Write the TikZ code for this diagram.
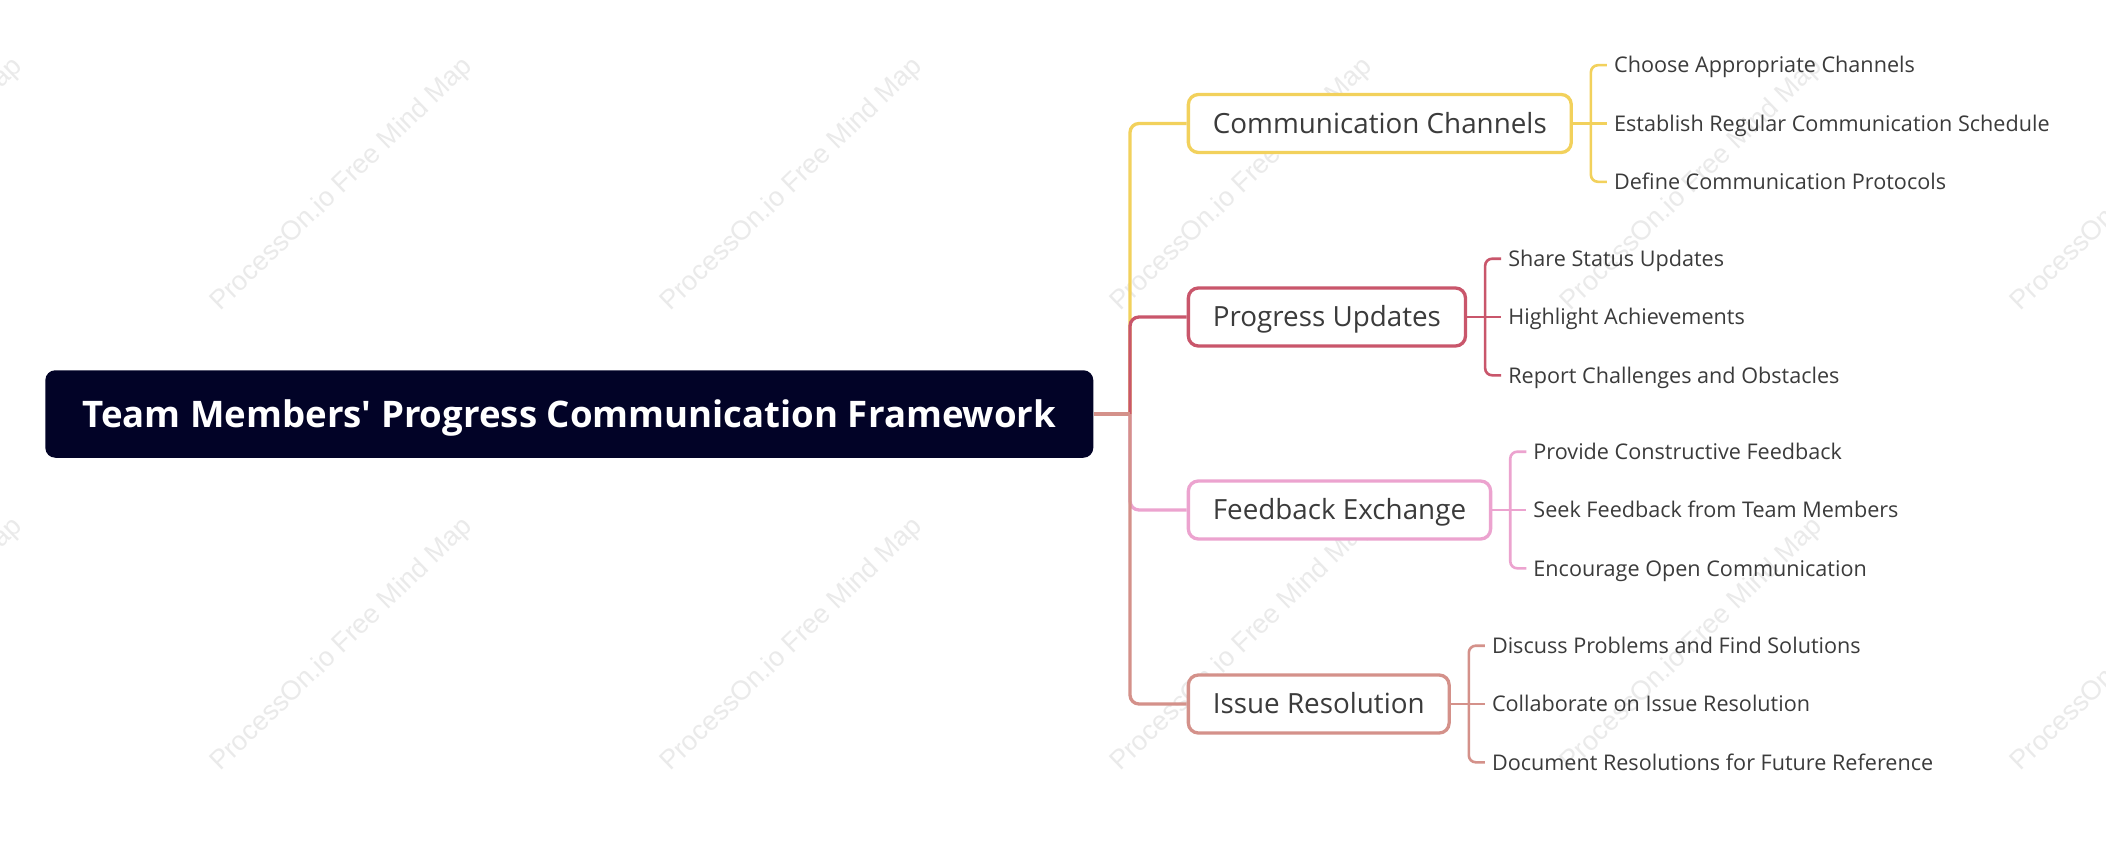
\documentclass[tikz,border=0pt]{standalone}
\usepackage{fontspec}
\setmainfont{Open Sans}[Ligatures=TeXOff]
\newfontfamily\wmfont{Liberation Sans}
\usetikzlibrary{calc}
\definecolor{ccol}{HTML}{F2D15C}
\definecolor{pucol}{HTML}{C9566B}
\definecolor{fecol}{HTML}{ECA3CF}
\definecolor{ircol}{HTML}{D4918A}
\definecolor{rootfill}{HTML}{020327}
\definecolor{txt}{HTML}{3B3B3B}
\definecolor{wmc}{HTML}{EAEAEA}
\tikzset{
  rootbox/.style={fill=rootfill, rounded corners=10pt, minimum width=1048pt, minimum height=87.5pt,
    text=white, font=\fontsize{36.6}{40}\selectfont\bfseries, inner sep=0pt,
    text height=26pt, text depth=-1pt},
  topic/.style={draw=#1, line width=3.3pt, rounded corners=10pt, fill=white, minimum height=58pt,
    inner xsep=24.5pt, inner ysep=0pt, anchor=west, text=txt, font=\fontsize{27.8}{32}\selectfont,
    text height=19.8pt, text depth=-1pt},
  leaf/.style={anchor=west, inner xsep=7pt, inner ysep=0pt, text=txt, font=\fontsize{21.6}{24}\selectfont,
    text height=15.4pt, text depth=0pt},
  trunkline/.style={draw=#1, line width=3.3pt, rounded corners=9pt},
  leafline/.style={draw=#1, line width=2.6pt, rounded corners=7pt},
  wm/.style={text=wmc, font=\wmfont\fontsize{27}{30}\selectfont, rotate=44}
}
\begin{document}
\begin{tikzpicture}[x=1pt,y=-1pt]
\fill[white] (0,0) rectangle (2106,843);
\useasboundingbox (0,0) rectangle (2106,843);
% watermarks
\foreach \wx in {-108,342,792,1242,1692,2142}{
  \foreach \wy in {185,645}{
    \node[wm] (wm-\wx-\wy) at (\wx,\wy) {ProcessOn.io Free Mind Map};
  }
}
% root
\node[rootbox] (root) at (569.3,414) {Team Members' Progress Communication Framework};
\coordinate (t) at (1130,414);
% level 1
\node[topic=ccol] (cc) at (1186.7,123.5) {Communication Channels};
\node[topic=pucol] (pu) at (1186.7,317) {Progress Updates};
\node[topic=fecol] (fe) at (1186.7,510) {Feedback Exchange};
\node[topic=ircol] (ir) at (1186.7,704) {Issue Resolution};
% trunk branches
\draw[trunkline=ccol] (t) |- (cc.west);
\draw[trunkline=pucol] (t) |- (pu.west);
\draw[trunkline=fecol] (t) |- (fe.west);
\draw[trunkline=ircol] (t) |- (ir.west);
\draw[ircol, line width=4pt] (root.east) -- (t);
% leaves
\path (cc.east) ++(34,-58.3) node[leaf] (cc1) {Choose Appropriate Channels};
\path (cc.east) ++(34,0) node[leaf] (cc2) {Establish Regular Communication Schedule};
\path (cc.east) ++(34,58.3) node[leaf] (cc3) {Define Communication Protocols};
\path (pu.east) ++(34,-58.3) node[leaf] (pu1) {Share Status Updates};
\path (pu.east) ++(34,0) node[leaf] (pu2) {Highlight Achievements};
\path (pu.east) ++(34,58.3) node[leaf] (pu3) {Report Challenges and Obstacles};
\path (fe.east) ++(34,-58.3) node[leaf] (fe1) {Provide Constructive Feedback};
\path (fe.east) ++(34,0) node[leaf] (fe2) {Seek Feedback from Team Members};
\path (fe.east) ++(34,58.3) node[leaf] (fe3) {Encourage Open Communication};
\path (ir.east) ++(34,-58.3) node[leaf] (ir1) {Discuss Problems and Find Solutions};
\path (ir.east) ++(34,0) node[leaf] (ir2) {Collaborate on Issue Resolution};
\path (ir.east) ++(34,58.3) node[leaf] (ir3) {Document Resolutions for Future Reference};
% leaf connectors
\foreach \p/\c in {cc/ccol,pu/pucol,fe/fecol,ir/ircol}{
  \coordinate (\p v) at ($(\p.east)+(18,0)$);
  \draw[leafline=\c] (\p v) |- (\p1.west);
  \draw[leafline=\c] (\p v) |- (\p3.west);
  \draw[leafline=\c] (\p.east) -- (\p2.west);
}
\end{tikzpicture}
\end{document}
